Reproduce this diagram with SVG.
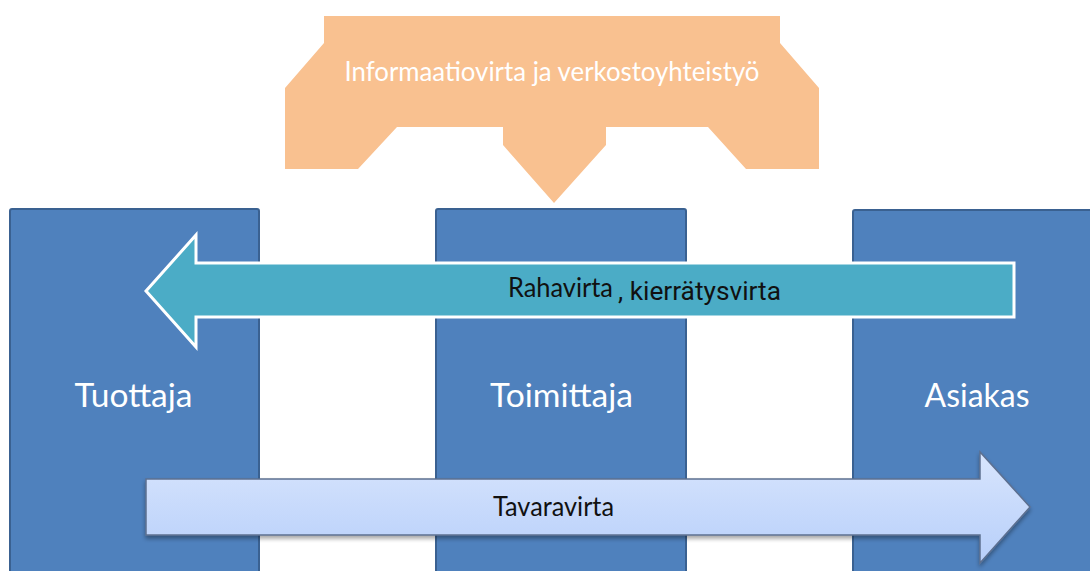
<svg xmlns="http://www.w3.org/2000/svg" width="1090" height="571" viewBox="0 0 1090 571">
  <defs>
    <linearGradient id="gTav" x1="0" y1="0" x2="0" y2="1">
      <stop offset="0" stop-color="#d8e5fd"/>
      <stop offset="1" stop-color="#b7cffa"/>
    </linearGradient>
    <filter id="shadow" x="-5%" y="-20%" width="110%" height="150%">
      <feGaussianBlur in="SourceAlpha" stdDeviation="2"/>
      <feOffset dx="0" dy="3" result="b"/>
      <feComponentTransfer><feFuncA type="linear" slope="0.35"/></feComponentTransfer>
      <feMerge><feMergeNode/><feMergeNode in="SourceGraphic"/></feMerge>
    </filter>
  </defs>
  <style>
    .box { fill: #4f81bd; stroke: #3a6191; stroke-width: 2; }
    .boxlabel { font-family: Lato, "Open Sans", sans-serif; font-size: 33px; fill: #ffffff; text-anchor: middle; }
    .flowlabel { font-family: Lato, "Open Sans", sans-serif; font-size: 26px; fill: #111111; }
  </style>
  <rect width="1090" height="571" fill="#ffffff"/>

  <g id="informaatiovirta">
    <path d="M324,16 L780,16 L780,43 L819,88 L819,169 L746,169 L708,127 L606,127 L606,145 L554,203 L503,145 L503,127 L397,127 L358,169 L285,169 L285,88 L324,43 Z" fill="#f9c190"/>
    <text x="552" y="81" font-family="Lato, 'Open Sans', sans-serif" font-size="26" fill="#ffffff" text-anchor="middle" textLength="415" lengthAdjust="spacingAndGlyphs">Informaatiovirta ja verkostoyhteistyö</text>
  </g>

  <g id="tuottaja">
    <rect class="box" x="10" y="209" width="249" height="380" rx="2"/>
    <text class="boxlabel" x="133.5" y="407" textLength="118" lengthAdjust="spacingAndGlyphs">Tuottaja</text>
  </g>
  <g id="toimittaja">
    <rect class="box" x="436" y="209" width="250" height="380" rx="2"/>
    <text class="boxlabel" x="561.5" y="407" textLength="143" lengthAdjust="spacingAndGlyphs">Toimittaja</text>
  </g>
  <g id="asiakas">
    <rect class="box" x="853" y="210" width="250" height="380" rx="2"/>
    <text class="boxlabel" x="977" y="407" textLength="105" lengthAdjust="spacingAndGlyphs">Asiakas</text>
  </g>

  <g id="connectors">
    <g id="rahavirta">
      <path d="M146,291 L196,235 L196,263 L1014,263 L1014,317 L196,317 L196,347 Z" fill="#4bacc6" stroke="#ffffff" stroke-width="3" stroke-linejoin="miter"/>
      <text class="flowlabel" x="508" y="297" textLength="105" lengthAdjust="spacingAndGlyphs">Rahavirta</text>
      <text x="618" y="300" font-family="Roboto, 'Liberation Sans', sans-serif" font-size="25" fill="#111111" textLength="163" lengthAdjust="spacingAndGlyphs">, kierrätysvirta</text>
    </g>
    <g id="tavaravirta">
      <path d="M146,479 L980,479 L980,452 L1030,507 L980,563 L980,535 L146,535 Z" fill="url(#gTav)" stroke="#5d7090" stroke-width="1.5" filter="url(#shadow)"/>
      <text class="flowlabel" x="493" y="516" textLength="121" lengthAdjust="spacingAndGlyphs">Tavaravirta</text>
    </g>
  </g>
</svg>
